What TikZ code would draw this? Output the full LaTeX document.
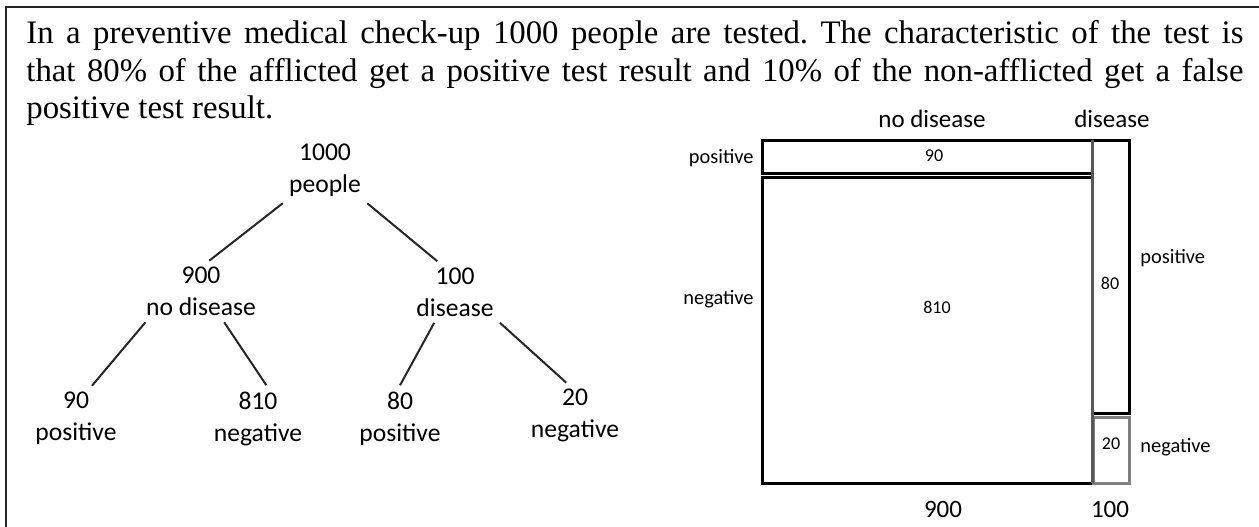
\documentclass[tikz,border=0pt]{standalone}
\usepackage{fontspec}
\setmainfont{Liberation Serif}
\newfontfamily\calib{Carlito}
\frenchspacing

\begin{document}
\begin{tikzpicture}[x=0.5pt, y=-0.5pt,
  para/.style={font=\fontsize{16.4}{19.7}\selectfont, inner sep=0pt, anchor=base west},
  tnode/.style={font=\calib\fontsize{12.8}{16}\selectfont, align=center, inner sep=3pt},
  branch/.style={line width=1pt, black!85},
  cell/.style={line width=1.5pt},
  head/.style={font=\calib\fontsize{12.5}{15}\selectfont, anchor=base, inner sep=0pt},
  side/.style={font=\calib\fontsize{10.2}{12}\selectfont, inner sep=0pt},
  count/.style={font=\calib\fontsize{9}{11}\selectfont, anchor=base, inner sep=0pt}]
\useasboundingbox (0,0) rectangle (1259,526);

% Frame
\draw[line width=1pt, black!85] (6,540) |- (1270,7);

% Problem text
\node[para] (line1) at (26,43.3) {\makebox[608.5pt][s]{In a preventive medical check-up 1000 people are tested. The characteristic of the test is}};
\node[para] (line2) at (26,81.7) {\makebox[608.5pt][s]{that 80\% of the afflicted get a positive test result and 10\% of the non-afflicted get a false}};
\node[para] (line3) at (26,118) {positive test result.};

% Tree
\node[tnode] (root) at (325,170.5) {1000\\people};
\node[tnode] (nodis) at (201,291.5) {900\\no disease};
\node[tnode] (dis) at (455,292) {100\\disease};
\node[tnode] (pos90) at (76,418.5) {90\\positive};
\node[tnode] (neg810) at (258,418.5) {810\\negative};
\node[tnode] (pos80) at (400,418.5) {80\\positive};
\node[tnode] (neg20) at (575,415.5) {20\\negative};

% Branches
\draw[branch] (root.south west) -- (nodis.75);
\draw[branch] (root.south east) -- (dis.120);
\draw[branch] (nodis.209) -- (pos90.64);
\draw[branch] (nodis.307) -- (neg810.76);
\draw[branch] (dis.236) -- (pos80.north);
\draw[branch] (dis.south east) -- (neg20.105);

% Mosaic
\draw[cell] (762,140) rectangle (1092,173);
\draw[cell] (762,177) rectangle (1092,483);
\draw[cell] (1092,140) rectangle (1129,413);
\draw[cell, black!50] (1093,417) rectangle (1129,483);
\draw[cell, black!65] (1092,140) -- (1092,483);

% Mosaic labels
\node[head] (hnodis) at (932,127) {no disease};
\node[head] (hdis) at (1112,127) {disease};
\node[head] (tnodis) at (943,517) {900};
\node[head] (tdis) at (1110,517) {100};
\node[side, anchor=base east] (lpos) at (754,163) {positive};
\node[side, anchor=base east] (lneg) at (754,304) {negative};
\node[side, anchor=base west] (rpos) at (1140,263) {positive};
\node[side, anchor=base west] (rneg) at (1140,452) {negative};
\node[count] (c90) at (934,161) {90};
\node[count] (c810) at (937,313) {810};
\node[count] (c80) at (1110,289) {80};
\node[count] (c20) at (1111,449) {20};
\end{tikzpicture}
\end{document}
